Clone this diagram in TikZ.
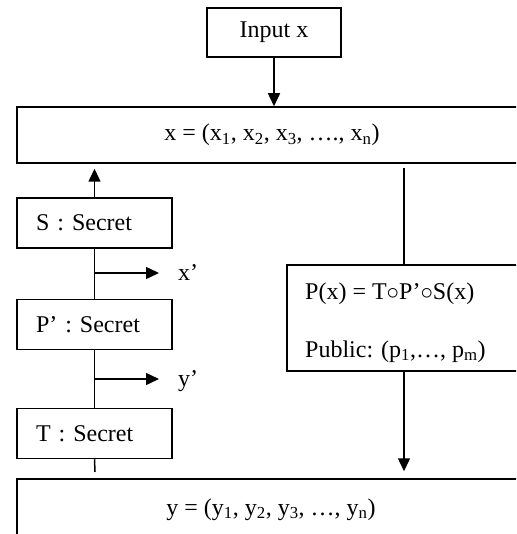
\documentclass[tikz,border=0pt]{standalone}
\usepackage{fontspec}
\setmainfont{Liberation Serif}
\usetikzlibrary{arrows.meta}
\begin{document}
\begin{tikzpicture}[x=1pt,y=-1pt,
  every node/.style={font=\fontsize{24}{28}\selectfont},
  box/.style={draw, line width=1.5pt, inner sep=0pt, rectangle},
  sbox/.style={box, minimum width=155pt, minimum height=50pt, text width=155pt, inner xsep=0pt, align=left},
  lab/.style={inner sep=0pt, anchor=base west},
  ln/.style={line width=1.5pt},
  arr/.style={line width=1.5pt, -{Triangle[length=13pt,width=12pt]}}]
\useasboundingbox (0,0) rectangle (516,534);
\clip (0,0) rectangle (516,534);
% nodes
\node[box, minimum width=134pt, minimum height=49pt] (inp) at (274,32.5) {Input x};
\node[box, minimum width=510pt, minimum height=56pt] (xbox) at (272,135)
  {x = (x\textsubscript{1}, x\textsubscript{2}, x\textsubscript{3}, …., x\textsubscript{n})};
\node[sbox] (S) at (94.5,223) {\hspace*{19pt}S : Secret};
\node[sbox] (Pp) at (94.5,324.5) {\hspace*{19pt}P’ : Secret};
\node[sbox] (T) at (94.5,433.5) {\hspace*{19pt}T : Secret};
\node[box, minimum width=240pt, minimum height=106pt] (P) at (407,318) {};
\node[lab] (p1) at (305,299) {P(x) = T$\circ$P’$\circ$S(x)};
\node[lab] (p2) at (305,357) {Public: (p\textsubscript{1},…, p\textsubscript{m})};
\node[box, minimum width=510pt, minimum height=70pt] (ybox) at (272,514) {};
\node[lab, anchor=base] (ytext) at (271,515)
  {y = (y\textsubscript{1}, y\textsubscript{2}, y\textsubscript{3}, …, y\textsubscript{n})};
\node[lab] (xp) at (178,280) {x’};
\node[lab] (yp) at (178,386) {y’};
% coordinates
\coordinate (xa) at (95,273);
\coordinate (ya) at (95,379);
\coordinate (tend) at (95,472);
\coordinate (c1) at (404,168);
% connectors
\draw[arr] (inp.south) -- (xbox.north -| inp.south);
\draw[arr, shorten >=5pt] (S.north) -- (xbox.south -| S.north);
\draw[ln] (S.south) -- (Pp.north);
\draw[ln] (Pp.south) -- (T.north);
\draw[ln] (T.south) -- (tend);
\draw[arr] (xa) -- ++(64,0);
\draw[arr] (ya) -- ++(64,0);
\draw[ln] (c1) -- (c1 |- P.north);
\draw[arr, shorten >=7pt] (c1 |- P.south) -- (c1 |- ybox.north);
\end{tikzpicture}
\end{document}
